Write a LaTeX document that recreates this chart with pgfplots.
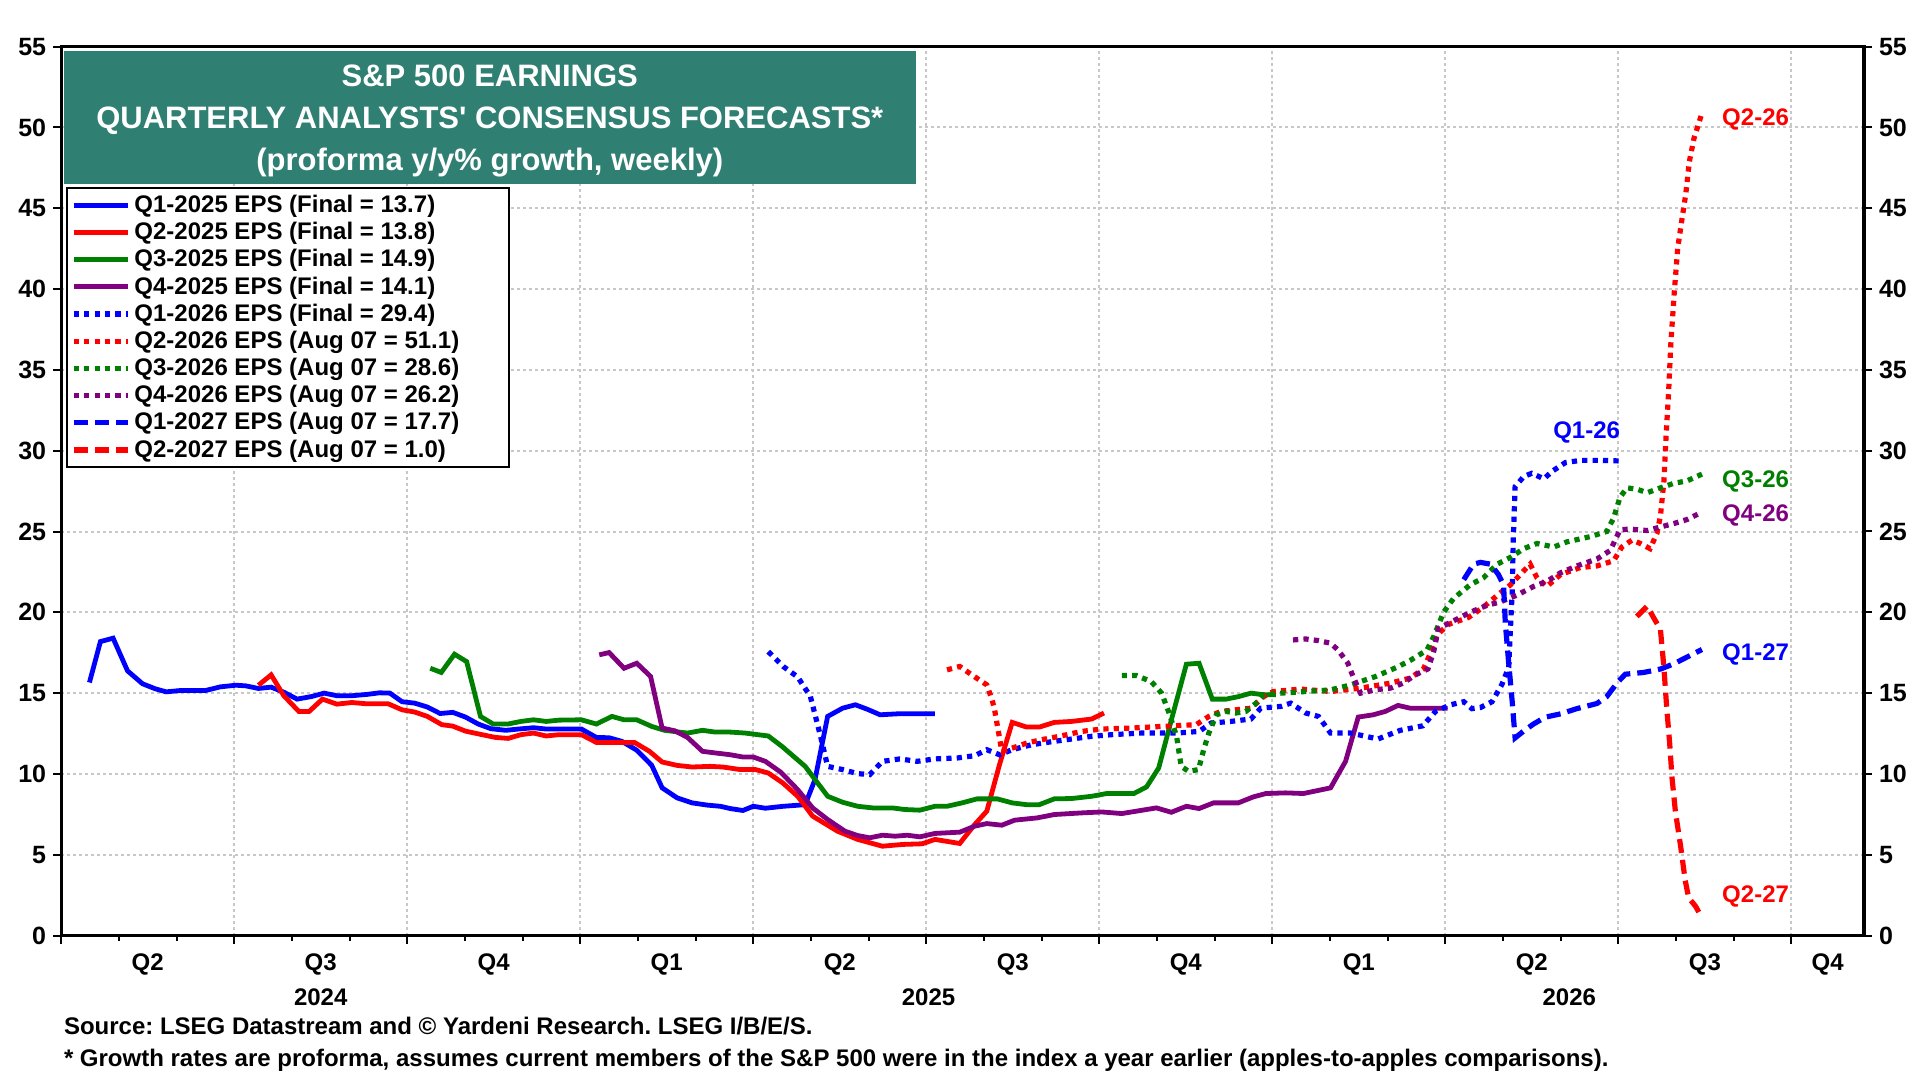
\documentclass[border=0pt]{standalone}
\usepackage{fontspec}
\setmainfont{Liberation Sans}
\usepackage{pgfplots}
\pgfplotsset{compat=1.18}
\frenchspacing
\definecolor{teal1}{RGB}{47,127,114}
\definecolor{gblue}{RGB}{0,0,255}
\definecolor{gred}{RGB}{255,0,0}
\definecolor{ggreen}{RGB}{0,128,0}
\definecolor{gpurple}{RGB}{128,0,128}
\definecolor{gridc}{RGB}{200,200,200}
\tikzset{
  solidl/.style={line width=2.4pt},
  dotl/.style={line width=2.6pt, dash pattern=on 2.6pt off 2.6pt},
  dashl/.style={line width=2.6pt, dash pattern=on 7pt off 3.5pt},
}
\begin{document}
\begin{tikzpicture}
\path[use as bounding box] (-30.6pt,-72.2pt) rectangle (929.4pt,467.8pt);
\begin{axis}[
  at={(0,0)}, anchor=south west, scale only axis,
  width=901.4pt, height=444.5pt,
  xmin=0, xmax=31.26, ymin=0, ymax=55,
  clip=false,
  xtick={0,3,...,30}, xticklabels={}, minor x tick num=2,
  ytick={0,5,...,55}, ytick pos=left, xtick pos=bottom,
  tick align=outside,
  major tick length=4pt, minor tick length=2.5pt,
  every tick/.style={black, line width=1pt},
  grid=major,
  major grid style={gridc, line width=1pt, dash pattern=on 1.2pt off 1.8pt},
  axis line style={line width=1.6pt},
  /pgf/number format/assume math mode=true,
  yticklabel style={font=\bfseries\fontsize{12.5}{14}\selectfont},
  legend style={at={(0.0028,0.842)}, anchor=north west, draw=black, line width=1pt,
    fill=white, font=\bfseries\fontsize{12}{13.5}\selectfont,
    inner xsep=2pt, inner ysep=1.5pt, row sep=-0.6pt, cells={anchor=west}},
  legend image code/.code={\draw[#1] (0pt,0pt) -- (27pt,0pt);},
]
% Q1-2025
\addplot[gblue, solidl] coordinates {(0.49,15.66) (0.68,18.19) (0.90,18.4) (1.15,16.38) (1.41,15.58) (1.63,15.27) (1.82,15.08) (2.06,15.16) (2.5,15.16) (2.76,15.39) (3.03,15.49) (3.2,15.45) (3.42,15.29) (3.64,15.37) (3.86,15.06) (4.09,14.63) (4.34,14.79) (4.56,15.0) (4.78,14.84) (5.04,14.84) (5.3,14.92) (5.52,15.02) (5.7,15.0) (5.91,14.47) (6.13,14.38) (6.35,14.14) (6.57,13.74) (6.79,13.81) (7.01,13.52) (7.23,13.09) (7.45,12.8) (7.71,12.7) (7.93,12.78) (8.19,12.86) (8.41,12.78) (9.02,12.78) (9.28,12.26) (9.5,12.24) (9.72,12.02) (9.98,11.47) (10.24,10.53) (10.42,9.14) (10.68,8.52) (10.94,8.21) (11.21,8.07) (11.43,8.0) (11.6,7.86) (11.82,7.74) (12.0,8.0) (12.21,7.88) (12.52,8.0) (12.9,8.1) (13.07,9.65) (13.29,13.56) (13.55,14.07) (13.77,14.28) (13.98,14.0) (14.2,13.66) (14.5,13.72) (15.15,13.72)};
\addlegendentry{Q1-2025 EPS (Final = 13.7)}
% Q2-2025
\addplot[gred, solidl] coordinates {(3.42,15.49) (3.64,16.13) (3.86,14.84) (4.12,13.87) (4.3,13.87) (4.53,14.63) (4.78,14.32) (5.04,14.42) (5.3,14.34) (5.67,14.34) (5.91,13.97) (6.13,13.83) (6.35,13.56) (6.6,13.05) (6.79,12.96) (7.01,12.65) (7.27,12.45) (7.53,12.26) (7.75,12.2) (7.97,12.43) (8.19,12.53) (8.41,12.35) (8.63,12.43) (9.02,12.43) (9.28,11.95) (9.94,11.95) (10.2,11.4) (10.42,10.74) (10.68,10.53) (10.94,10.43) (11.25,10.47) (11.47,10.43) (11.78,10.27) (12.04,10.27) (12.26,10.06) (12.51,9.45) (12.77,8.62) (13.03,7.39) (13.46,6.46) (13.81,5.95) (14.24,5.53) (14.59,5.64) (14.93,5.68) (15.15,5.95) (15.58,5.7) (15.84,6.87) (16.05,7.7) (16.27,10.58) (16.49,13.19) (16.74,12.9) (16.96,12.9) (17.22,13.19) (17.52,13.25) (17.87,13.4) (18.08,13.77)};
\addlegendentry{Q2-2025 EPS (Final = 13.8)}
% Q3-2025
\addplot[ggreen, solidl] coordinates {(6.4,16.54) (6.59,16.28) (6.82,17.41) (7.03,16.95) (7.27,13.56) (7.49,13.09) (7.75,13.09) (7.97,13.25) (8.19,13.35) (8.41,13.25) (8.63,13.33) (9.02,13.35) (9.28,13.09) (9.55,13.56) (9.76,13.35) (9.98,13.35) (10.24,12.94) (10.46,12.7) (10.86,12.53) (11.12,12.7) (11.34,12.59) (11.6,12.59) (11.86,12.53) (12.26,12.35) (12.5,11.7) (12.9,10.47) (13.29,8.62) (13.55,8.25) (13.81,8.0) (14.07,7.9) (14.41,7.9) (14.63,7.8) (14.89,7.76) (15.15,8.0) (15.36,8.0) (15.62,8.21) (15.88,8.46) (16.23,8.46) (16.49,8.21) (16.74,8.1) (16.96,8.1) (17.22,8.46) (17.52,8.48) (17.87,8.62) (18.13,8.79) (18.6,8.79) (18.82,9.2) (19.03,10.37) (19.25,13.35) (19.51,16.79) (19.73,16.85) (19.96,14.63) (20.2,14.63) (20.42,14.79) (20.63,15.0) (20.85,14.9) (21.06,14.9)};
\addlegendentry{Q3-2025 EPS (Final = 14.9)}
% Q4-2025
\addplot[gpurple, solidl] coordinates {(9.33,17.37) (9.5,17.51) (9.76,16.54) (9.98,16.85) (10.22,16.03) (10.42,12.84) (10.64,12.67) (10.86,12.26) (11.12,11.4) (11.34,11.3) (11.6,11.19) (11.82,11.05) (12.0,11.05) (12.21,10.78) (12.48,10.1) (12.77,9.03) (13.03,7.9) (13.29,7.18) (13.59,6.46) (13.81,6.19) (14.02,6.05) (14.24,6.21) (14.46,6.15) (14.67,6.21) (14.89,6.11) (15.15,6.32) (15.58,6.4) (15.84,6.77) (16.05,6.93) (16.31,6.83) (16.53,7.14) (16.92,7.28) (17.22,7.49) (17.69,7.59) (18.04,7.65) (18.39,7.55) (18.99,7.9) (19.25,7.63) (19.51,8.0) (19.73,7.86) (19.98,8.21) (20.41,8.21) (20.67,8.58) (20.89,8.79) (21.23,8.83) (21.54,8.79) (22.01,9.14) (22.27,10.78) (22.49,13.52) (22.75,13.66) (22.96,13.87) (23.18,14.24) (23.39,14.07) (24.04,14.07)};
\addlegendentry{Q4-2025 EPS (Final = 14.1)}
% Q1-2026
\addplot[gblue, dotl] coordinates {(12.26,17.57) (12.52,16.65) (12.77,16.0) (12.99,14.8) (13.16,12.43) (13.29,10.47) (13.55,10.27) (13.81,10.02) (14.02,9.96) (14.24,10.78) (14.54,10.93) (14.84,10.78) (15.15,10.93) (15.54,10.99) (15.84,11.13) (16.05,11.5) (16.27,11.19) (16.49,11.5) (16.83,11.81) (17.22,12.02) (17.52,12.16) (17.87,12.33) (18.21,12.43) (18.73,12.53) (19.34,12.53) (19.73,12.63) (19.94,13.15) (20.28,13.25) (20.63,13.4) (20.8,14.07) (21.15,14.18) (21.32,14.38) (21.58,13.77) (21.8,13.56) (22.01,12.53) (22.36,12.53) (22.62,12.33) (22.83,12.16) (23.22,12.7) (23.61,12.98) (23.83,13.87) (24.09,14.28) (24.32,14.47) (24.46,14.04) (24.61,14.11) (24.81,14.47) (24.98,15.53) (25.1,16.6) (25.12,18.3) (25.16,21.28) (25.18,24.68) (25.21,27.77) (25.36,28.4) (25.5,28.6) (25.71,28.26) (25.85,28.72) (26.08,29.26) (26.34,29.4) (26.69,29.4) (27.06,29.36)};
\addlegendentry{Q1-2026 EPS (Final = 29.4)}
% Q2-2026
\addplot[gred, dotl] coordinates {(15.36,16.44) (15.58,16.65) (15.79,16.13) (16.05,15.51) (16.14,14.59) (16.18,14.07) (16.27,12.22) (16.31,11.4) (16.49,11.6) (16.74,11.91) (17.0,12.12) (17.31,12.33) (17.69,12.63) (18.04,12.78) (18.56,12.84) (19.08,12.94) (19.68,13.05) (19.9,13.56) (20.11,13.87) (20.63,14.07) (20.85,14.79) (21.02,15.1) (21.49,15.25) (22.01,15.1) (22.53,15.31) (23.05,15.62) (23.39,15.93) (23.62,16.49) (23.74,17.45) (23.86,18.62) (24.06,19.26) (24.4,19.68) (24.66,20.32) (24.92,21.11) (25.13,21.7) (25.3,22.34) (25.47,22.98) (25.59,22.13) (25.76,21.6) (26.0,22.34) (26.34,22.77) (26.63,22.87) (26.92,23.19) (27.06,24.04) (27.24,24.47) (27.38,24.26) (27.55,23.94) (27.67,24.89) (27.73,25.96) (27.79,28.09) (27.83,31.06) (27.87,33.5) (27.91,36.6) (27.97,39.8) (28.03,42.54) (28.09,44.0) (28.17,45.9) (28.23,47.85) (28.31,49.3) (28.46,51.0)};
\addlegendentry{Q2-2026 EPS (Aug 07 = 51.1)\hspace*{21pt}}
% Q3-2026
\addplot[ggreen, dotl] coordinates {(18.39,16.09) (18.64,16.09) (18.9,15.72) (19.08,15.0) (19.21,13.77) (19.34,12.33) (19.42,10.47) (19.55,10.16) (19.72,10.27) (19.81,11.5) (19.9,12.53) (20.03,13.66) (20.2,13.87) (20.37,13.77) (20.54,13.87) (20.72,14.38) (20.85,14.9) (21.15,15.0) (21.58,15.1) (22.01,15.2) (22.36,15.51) (22.79,16.03) (23.16,16.6) (23.39,17.02) (23.68,17.66) (23.8,18.51) (23.97,20.0) (24.14,20.85) (24.43,21.7) (24.66,22.13) (24.9,22.98) (25.13,23.4) (25.36,23.94) (25.59,24.26) (25.88,24.04) (26.11,24.36) (26.51,24.68) (26.8,25.0) (26.92,25.85) (27.03,27.13) (27.15,27.7) (27.32,27.62) (27.5,27.4) (27.73,27.7) (27.96,27.98) (28.19,28.13) (28.45,28.55)};
\addlegendentry{Q3-2026 EPS (Aug 07 = 28.6)}
% Q4-2026
\addplot[gpurple, dotl] coordinates {(21.36,18.29) (21.58,18.35) (21.8,18.25) (22.01,18.09) (22.14,17.67) (22.31,16.85) (22.4,16.03) (22.53,15.0) (22.79,15.21) (23.05,15.31) (23.27,15.62) (23.48,16.13) (23.7,16.5) (23.8,17.6) (23.88,19.0) (24.14,19.47) (24.43,20.0) (24.72,20.43) (24.95,20.64) (25.24,21.06) (25.53,21.6) (25.76,21.91) (26.0,22.45) (26.28,22.87) (26.63,23.3) (26.86,23.83) (27.03,25.11) (27.21,25.15) (27.5,25.06) (27.73,25.28) (27.96,25.49) (28.19,25.74) (28.45,26.2)};
\addlegendentry{Q4-2026 EPS (Aug 07 = 26.2)}
% Q1-2027
\addplot[gblue, dashl] coordinates {(24.32,22.02) (24.49,22.98) (24.61,23.09) (24.78,22.98) (24.92,22.34) (25.01,21.7) (25.04,19.36) (25.1,16.81) (25.16,14.47) (25.21,12.23) (25.36,12.66) (25.53,13.09) (25.73,13.51) (26.0,13.72) (26.28,14.04) (26.63,14.36) (26.8,14.79) (26.98,15.64) (27.12,16.17) (27.44,16.28) (27.73,16.49) (27.96,16.81) (28.19,17.23) (28.45,17.7)};
\addlegendentry{Q1-2027 EPS (Aug 07 = 17.7)}
% Q2-2027
\addplot[gred, dashl] coordinates {(27.32,19.74) (27.5,20.38) (27.61,19.68) (27.73,18.94) (27.79,16.6) (27.84,14.04) (27.89,11.91) (27.93,9.79) (27.99,7.66) (28.08,5.53) (28.16,3.4) (28.22,2.34) (28.34,1.81) (28.45,1.1)};
\addlegendentry{Q2-2027 EPS (Aug 07 = 1.0)}
% annotations
\begin{scope}[every node/.style={font=\bfseries\fontsize{12}{14}\selectfont}]
\node[text=gred] at (axis cs:29.38,50.5) {Q2-26};
\node[text=gblue] at (axis cs:26.45,31.1) {Q1-26};
\node[text=ggreen] at (axis cs:29.38,28.1) {Q3-26};
\node[text=gpurple] at (axis cs:29.38,26.0) {Q4-26};
\node[text=gblue] at (axis cs:29.38,17.4) {Q1-27};
\node[text=gred] at (axis cs:29.38,2.4) {Q2-27};
\end{scope}
% x labels
\begin{scope}[every node/.style={font=\bfseries\fontsize{12}{14}\selectfont}]
\node[yshift=-14.2pt] at (axis cs:1.5,0) {Q2};
\node[yshift=-14.2pt] at (axis cs:4.5,0) {Q3};
\node[yshift=-14.2pt] at (axis cs:7.5,0) {Q4};
\node[yshift=-14.2pt] at (axis cs:10.5,0) {Q1};
\node[yshift=-14.2pt] at (axis cs:13.5,0) {Q2};
\node[yshift=-14.2pt] at (axis cs:16.5,0) {Q3};
\node[yshift=-14.2pt] at (axis cs:19.5,0) {Q4};
\node[yshift=-14.2pt] at (axis cs:22.5,0) {Q1};
\node[yshift=-14.2pt] at (axis cs:25.5,0) {Q2};
\node[yshift=-14.2pt] at (axis cs:28.5,0) {Q3};
\node[yshift=-14.2pt] at (axis cs:30.63,0) {Q4};
\node[yshift=-30.6pt] at (axis cs:4.5,0) {2024};
\node[yshift=-30.6pt] at (axis cs:15.04,0) {2025};
\node[yshift=-30.6pt] at (axis cs:26.15,0) {2026};
\end{scope}
\end{axis}
\begin{axis}[
  at={(0,0)}, anchor=south west, scale only axis,
  width=901.4pt, height=444.5pt,
  xmin=0, xmax=31.26, ymin=0, ymax=55,
  hide x axis, axis y line*=right,
  ytick={0,5,...,55},
  tick align=outside, major tick length=4pt,
  every tick/.style={black, line width=1pt},
  axis line style={line width=1.6pt},
  /pgf/number format/assume math mode=true,
  yticklabel style={font=\bfseries\fontsize{12.5}{14}\selectfont},
]
\addplot[draw=none] coordinates {(0,0) (31,55)};
\end{axis}
% title box
\fill[teal1] (1.25pt,442.1pt) rectangle (427.4pt,375.95pt);
\begin{scope}[every node/.style={text=white, font=\bfseries\fontsize{15.5}{18}\selectfont}]
\node at (214.3pt,429.9pt) {S\&P 500 EARNINGS};
\node at (214.3pt,407.3pt) {QUARTERLY ANALYSTS\textquotesingle{} CONSENSUS FORECASTS*};
\node at (214.3pt,386.5pt) {(proforma y/y\% growth, weekly)};
\end{scope}
% footnotes
\begin{scope}[every node/.style={font=\bfseries\fontsize{12}{14}\selectfont, anchor=west, inner xsep=0pt}]
\node at (1.2pt,-45.2pt) {Source: LSEG Datastream and © Yardeni Research. LSEG I/B/E/S.};
\node at (1.2pt,-62.4pt) {* Growth rates are proforma, assumes current members of the S\&P 500 were in the index a year earlier (apples-to-apples comparisons).};
\end{scope}
\end{tikzpicture}
\end{document}
